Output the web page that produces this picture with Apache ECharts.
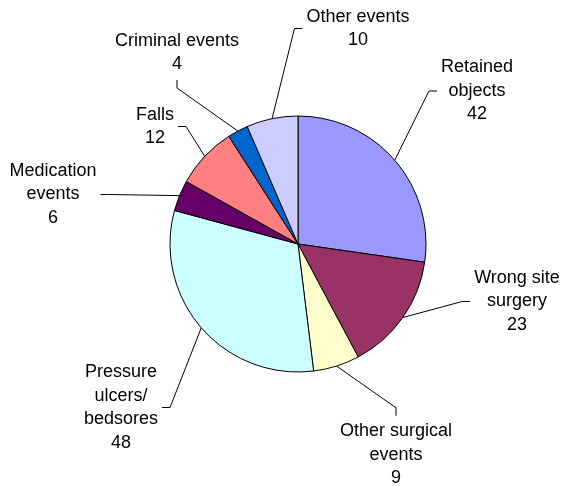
<!DOCTYPE html>
<html><head><meta charset="utf-8">
<script src="https://cdn.jsdelivr.net/npm/echarts@6/dist/echarts.min.js"></script>
<style>html,body{margin:0;padding:0;background:#fff}#c{width:562px;height:486px}</style>
</head><body><div id="c"></div>
<script>
// ---- data ----
const categories = ['Retained\nobjects', 'Wrong site\nsurgery', 'Other surgical\nevents', 'Pressure\nulcers/\nbedsores', 'Medication\nevents', 'Falls', 'Criminal events', 'Other events'];
const values = [42, 23, 9, 48, 6, 12, 4, 10];
// ---- style / layout ----
const colors = ['#9999FF', '#993366', '#FFFFCC', '#CCFFFF', '#660066', '#FF8080', '#0066CC', '#CCCCFF'];
const labelCenters = [[477, 91], [517, 301.5], [396, 455], [121, 407.5], [53, 194.5], [155, 126.5], [177, 52.5], [358, 28.5]];
const labelSides = ['left', 'left', 'top', 'right', 'right', 'right', 'bottom', 'left'];
const PIE_C = [298, 244], PIE_R = 128;

const total = values.reduce((a, b) => a + b, 0);
function midAnchor(i) {
  let cum = 0;
  for (let k = 0; k < i; k++) cum += values[k];
  const a = (cum + values[i] / 2) / total * Math.PI * 2;
  return [PIE_C[0] + PIE_R * Math.sin(a), PIE_C[1] - PIE_R * Math.cos(a)];
}

const chart = echarts.init(document.getElementById('c'), null, {renderer: 'canvas'});
chart.setOption({
  animation: false,
  backgroundColor: '#fff',
  series: [{
    type: 'pie',
    center: PIE_C,
    radius: PIE_R,
    startAngle: 90,
    clockwise: true,
    avoidLabelOverlap: false,
    silent: true,
    data: categories.map((n, i) => ({name: n, value: values[i], itemStyle: {color: colors[i]}})),
    itemStyle: {borderColor: '#000', borderWidth: 1},
    label: {
      show: true,
      position: 'outside',
      formatter: '{b}\n{c}',
      color: '#000',
      fontFamily: '"Liberation Sans", Arial, sans-serif',
      fontSize: 18,
      lineHeight: 23.5,
      align: 'center'
    },
    labelLine: {show: true, lineStyle: {color: '#000', width: 1}},
    labelLayout: function (p) {
      const i = p.dataIndex;
      const c = labelCenters[i];
      const w = p.labelRect.width, h = p.labelRect.height;
      const anchor = (p.labelLinePoints && p.labelLinePoints[0]) ? p.labelLinePoints[0] : midAnchor(i);
      const gap = 4, len = 8;
      let e, b;
      switch (labelSides[i]) {
        case 'left': e = [c[0] - w / 2 - gap, c[1]]; b = [e[0] - len, e[1]]; break;
        case 'right': e = [c[0] + w / 2 + gap, c[1]]; b = [e[0] + len, e[1]]; break;
        case 'top': e = [c[0], c[1] - h / 2 - gap]; b = [e[0], e[1] - len]; break;
        default: e = [c[0], c[1] + h / 2 + gap]; b = [e[0], e[1] + len];
      }
      return {x: c[0], y: c[1], align: 'center', verticalAlign: 'middle', labelLinePoints: [anchor, b, e]};
    }
  }]
});
</script></body></html>
